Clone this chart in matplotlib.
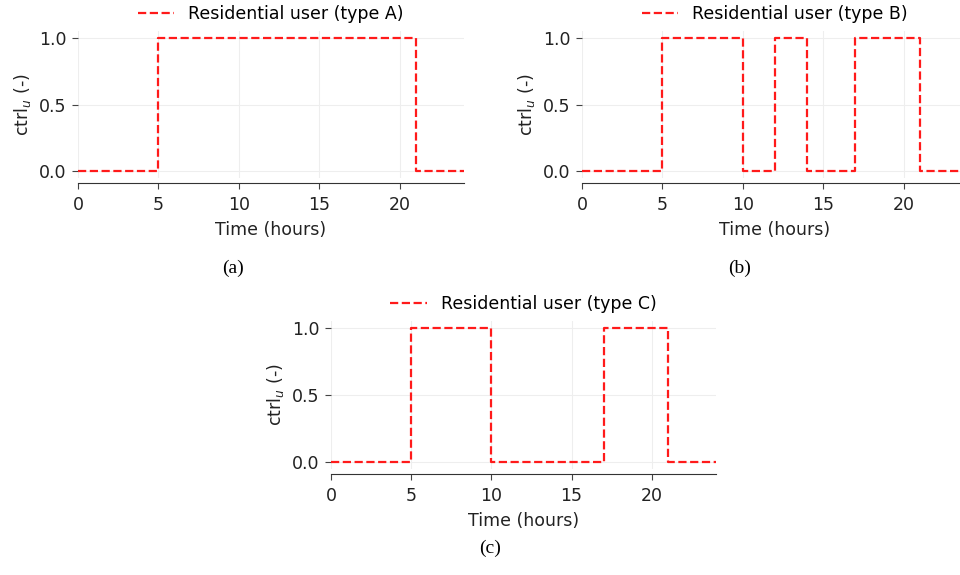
import matplotlib
matplotlib.use("Agg")
import matplotlib.pyplot as plt

# Step data (steps-post): times (hours) and control values
a_times = [0, 5, 21, 24]
a_vals = [0, 1, 0, 0]
b_times = [0, 5, 10, 12, 14, 17, 21, 24]
b_vals = [0, 1, 0, 1, 0, 1, 0, 0]
c_times = [0, 5, 10, 17, 21, 24]
c_vals = [0, 1, 0, 1, 0, 0]

labels = ["Residential user (type A)", "Residential user (type B)", "Residential user (type C)"]
panel_tags = ["(a)", "(b)", "(c)"]
xticks = [0, 5, 10, 15, 20]
yticks = [0.0, 0.5, 1.0]

plt.rcParams['font.family'] = ['DejaVu Sans']
fig = plt.figure(figsize=(9.6, 5.75), dpi=100)

positions = [
    (0.08125, 0.691, 0.402, 0.2544),
    (0.60625, 0.691, 0.402, 0.2544),
    (0.3448, 0.1849, 0.401, 0.2563),
]
data = [(a_times, a_vals), (b_times, b_vals), (c_times, c_vals)]
tag_pos = [(233 / 960, 1 - 268 / 575), (740 / 960, 1 - 268 / 575), (490 / 960, 1 - 548 / 575)]

fs = 12.5
for pos, (t, v), lab, tag, tp in zip(positions, data, labels, panel_tags, tag_pos):
    ax = fig.add_axes(pos)
    ax.plot(t, v, drawstyle='steps-post', color='#ff1a1a', linestyle='--', linewidth=1.6, label=lab)
    ax.set_xlim(0, 24)
    ax.set_ylim(-0.05, 1.05)
    ax.set_xticks(xticks)
    ax.set_yticks(yticks)
    ax.set_yticklabels(["0.0", "0.5", "1.0"])
    ax.grid(True, color='#eeeeee', linewidth=0.8)
    ax.set_axisbelow(True)
    for s in ['top', 'right', 'left']:
        ax.spines[s].set_visible(False)
    ax.spines['bottom'].set_position(('outward', 4))
    ax.spines['bottom'].set_color('#333333')
    ax.tick_params(axis='both', labelsize=fs, colors='#444444', labelcolor='#222222', length=4.5, width=0.8, pad=4)
    ax.tick_params(axis='x', pad=5)
    ax.set_xlabel("Time (hours)", fontsize=fs, color='#222222', labelpad=5)
    ax.set_ylabel("ctrl$_{u}$ (-)", fontsize=fs, color='#222222', labelpad=4)
    ax.legend(loc='lower center', bbox_to_anchor=(0.5, 1.01), frameon=False, fontsize=fs,
              handlelength=2.1, borderaxespad=0.0)
    fig.text(tp[0], tp[1], tag, ha='center', va='center', fontsize=14, family='Liberation Serif')

fig.savefig("out.png", dpi=100)
